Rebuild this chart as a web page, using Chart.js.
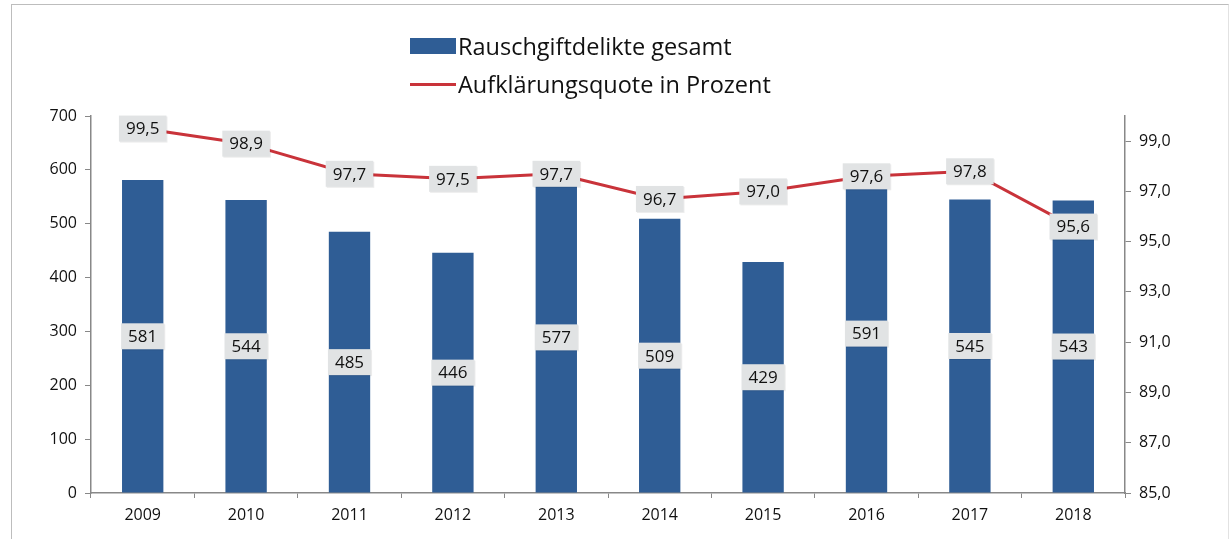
<!DOCTYPE html>
<html>
<head>
<meta charset="utf-8">
<script src="https://cdn.jsdelivr.net/npm/chart.js@4/dist/chart.umd.min.js"></script>
<style>
    html, body { margin: 0; padding: 0; background: #fff; }
    #wrap { position: relative; width: 1232px; height: 541px; }
    #frame { position: absolute; left: 11px; top: 4px; right: 3px; bottom: 2px; border: 1px solid #bdbdbd; border-right-color: #e2e2e2; border-bottom: none; }
    #legend { position: absolute; left: 410px; top: 27px; font-family: 'Open Sans', sans-serif; font-size: 23.5px; color: #111; }
    .item { display: flex; align-items: center; height: 38px; }
    .swatch { width: 46px; height: 16px; background: #2f5d95; margin-right: 2px; }
    .stroke { width: 46px; height: 3px; background: #c9333a; margin-right: 2px; }
    canvas { position: absolute; left: 0; top: 0; }
</style>
</head>
<body>
<div id="wrap">
    <div id="frame"></div>
    <canvas id="chart" width="1232" height="541"></canvas>
    <div id="legend">
        <div class="item"><span class="swatch"></span>Rauschgiftdelikte gesamt</div>
        <div class="item"><span class="stroke"></span>Aufklärungsquote in Prozent</div>
    </div>
</div>
<script>
const years = ['2009', '2010', '2011', '2012', '2013', '2014', '2015', '2016', '2017', '2018'];
const delikte = [581, 544, 485, 446, 577, 509, 429, 591, 545, 543];
const quote = [99.5, 98.9, 97.7, 97.5, 97.7, 96.7, 97.0, 97.6, 97.8, 95.6];
const quoteTicks = [85, 87, 89, 91, 93, 95, 97, 99];

const fontFamily = "'Open Sans', sans-serif";

// Draws the grey value boxes (no datalabels plugin available offline)
const valueBoxes = {
    id: 'valueBoxes',
    afterDatasetsDraw(chart) {
        const ctx = chart.ctx;
        ctx.save();
        ctx.font = '17px ' + fontFamily;
        ctx.textAlign = 'center';
        ctx.textBaseline = 'middle';
        chart.data.datasets.forEach((ds, i) => {
            const meta = chart.getDatasetMeta(i);
            meta.data.forEach((el, j) => {
                let x = el.x, y;
                let text;
                if (ds.type === 'bar') {
                    y = (el.y + el.base) / 2;
                    text = String(ds.data[j]);
                } else {
                    y = el.y;
                    text = ds.data[j].toFixed(1).replace('.', ',');
                }
                const w = ctx.measureText(text).width + 14;
                const h = 26;
                ctx.fillStyle = 'rgba(0,0,0,0.08)';
                ctx.fillRect(x - w / 2 + 1, y - h / 2 + 1, w, h);
                ctx.fillStyle = '#e1e3e4';
                ctx.fillRect(x - w / 2, y - h / 2, w, h);
                ctx.fillStyle = '#111';
                ctx.fillText(text, x, y + 1);
            });
        });
        ctx.restore();
    }
};

new Chart(document.getElementById('chart'), {
    data: {
        labels: years,
        datasets: [{
            type: 'line',
            label: 'Aufklärungsquote in Prozent',
            data: quote,
            yAxisID: 'y1',
            borderColor: '#c9333a',
            borderWidth: 3,
            pointRadius: 0,
            tension: 0,
            order: 0
        }, {
            type: 'bar',
            label: 'Rauschgiftdelikte gesamt',
            data: delikte,
            yAxisID: 'y',
            backgroundColor: '#2f5d95',
            barPercentage: 0.4,
            categoryPercentage: 1.0,
            order: 1
        }]
    },
    options: {
        responsive: false,
        animation: false,
        layout: { padding: { top: 116, left: 10, right: 4, bottom: 0 } },
        plugins: {
            legend: { display: false },
            tooltip: { enabled: false }
        },
        scales: {
            x: {
                offset: true,
                grid: { display: true, drawOnChartArea: false, offset: true, tickLength: 5, color: '#888' },
                border: { color: '#888', width: 1.5 },
                ticks: { color: '#111', font: { family: fontFamily, size: 16 }, padding: 8 },
                afterFit(scale) { scale.height = 48; }
            },
            y: {
                position: 'left',
                min: 0,
                max: 700,
                grid: { drawOnChartArea: false, tickLength: 6, color: '#888' },
                border: { color: '#888', width: 1.5 },
                ticks: { stepSize: 100, color: '#111', font: { family: fontFamily, size: 16 }, padding: 8 },
                afterFit(scale) { scale.width = 81; }
            },
            y1: {
                position: 'right',
                min: 85,
                max: 100,
                grid: { drawOnChartArea: false, tickLength: 6, color: '#888' },
                border: { color: '#888', width: 1.5 },
                ticks: {
                    color: '#111',
                    font: { family: fontFamily, size: 16 },
                    padding: 8,
                    callback: v => v.toFixed(1).replace('.', ',')
                },
                afterBuildTicks(scale) { scale.ticks = quoteTicks.map(v => ({ value: v })); },
                afterFit(scale) { scale.width = 103; }
            }
        }
    },
    plugins: [valueBoxes]
});
</script>
</body>
</html>
